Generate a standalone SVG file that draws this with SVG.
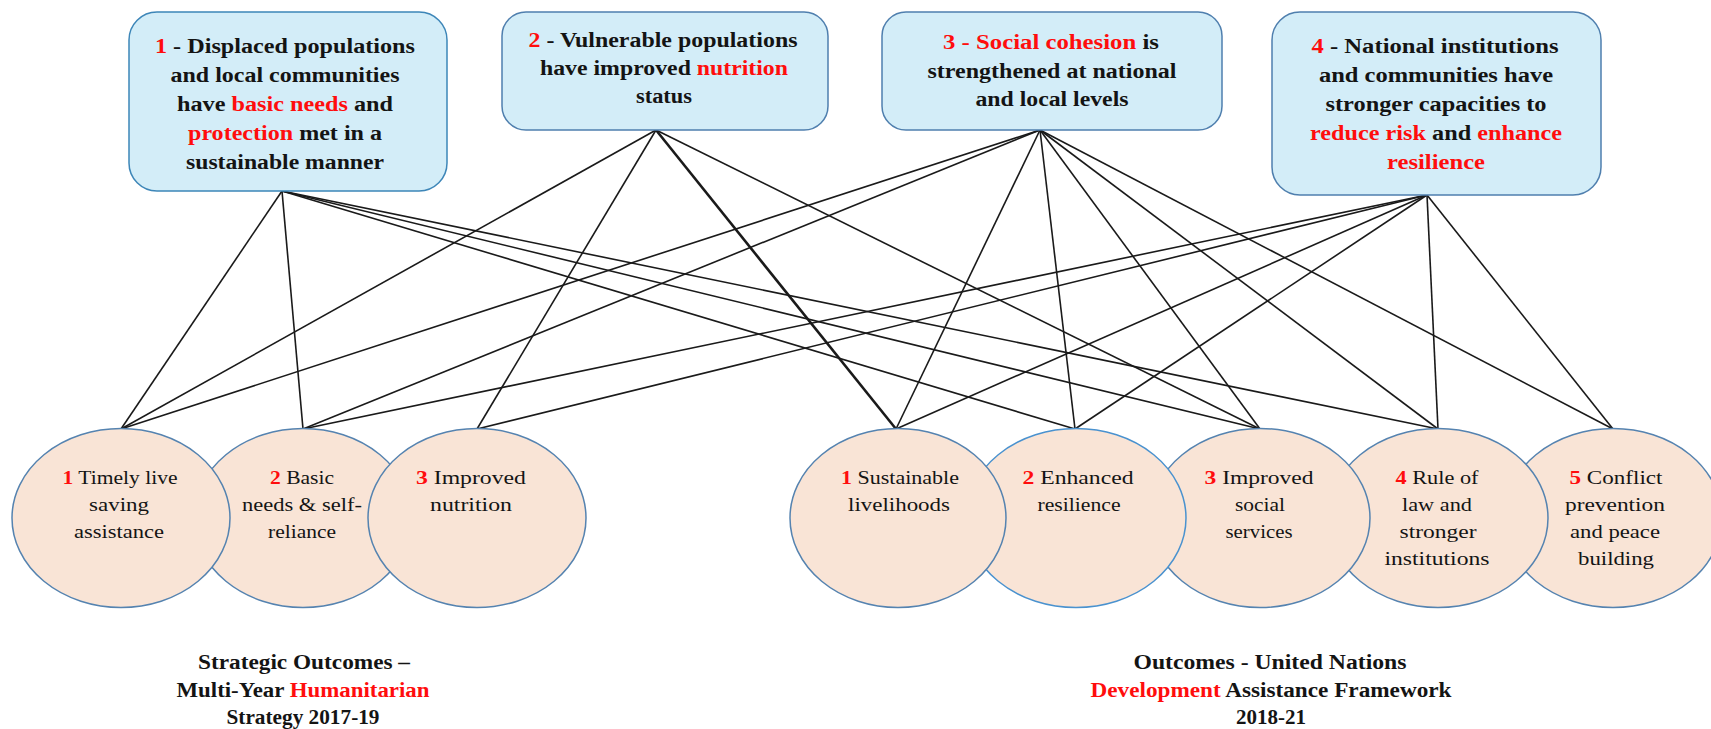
<svg xmlns="http://www.w3.org/2000/svg" width="1711" height="729" viewBox="0 0 1711 729">
<style>
.box{fill:#d3edf8;stroke:#4f7fae;stroke-width:1.5}
.ell{fill:#f9e4d6;stroke:#5583b0;stroke-width:1.5}
.bt{font-family:"Liberation Serif",serif;font-weight:bold;font-size:20px;text-anchor:middle;fill:#141414}
.et{font-family:"Liberation Serif",serif;font-size:19px;text-anchor:middle;fill:#141414}
.r{fill:#ff0d0d}
.b{font-weight:bold}
#connectors line{stroke:#1a1a1a;stroke-width:1.6}
</style>
<rect width="1711" height="729" fill="#ffffff"/>
<g id="connectors">
<line x1="282" y1="191" x2="121" y2="429"/>
<line x1="282" y1="191" x2="303" y2="429"/>
<line x1="282" y1="191" x2="1075" y2="429"/>
<line x1="282" y1="191" x2="1260" y2="429"/>
<line x1="282" y1="191" x2="1438" y2="429"/>
<line x1="656" y1="130" x2="121" y2="429"/>
<line x1="656" y1="130" x2="477" y2="429"/>
<line x1="656" y1="130" x2="896" y2="429" style="stroke-width:2.6"/>
<line x1="656" y1="130" x2="1260" y2="429"/>
<line x1="1040" y1="130" x2="121" y2="429"/>
<line x1="1040" y1="130" x2="303" y2="429"/>
<line x1="1040" y1="130" x2="896" y2="429"/>
<line x1="1040" y1="130" x2="1075" y2="429"/>
<line x1="1040" y1="130" x2="1260" y2="429"/>
<line x1="1040" y1="130" x2="1438" y2="429"/>
<line x1="1040" y1="130" x2="1613" y2="429"/>
<line x1="1427" y1="195" x2="303" y2="429"/>
<line x1="1427" y1="195" x2="477" y2="429"/>
<line x1="1427" y1="195" x2="896" y2="429"/>
<line x1="1427" y1="195" x2="1075" y2="429"/>
<line x1="1427" y1="195" x2="1438" y2="429"/>
<line x1="1427" y1="195" x2="1613" y2="429"/>
</g>
<g id="goal1">
<rect class="box" x="129" y="12" width="318" height="179" rx="28" style="stroke:#3d86b8"/>
<text class="bt" x="285" y="53" textLength="260" lengthAdjust="spacingAndGlyphs"><tspan class="r">1</tspan> - Displaced populations</text>
<text class="bt" x="285" y="82" textLength="229" lengthAdjust="spacingAndGlyphs">and local communities</text>
<text class="bt" x="285" y="111" textLength="216" lengthAdjust="spacingAndGlyphs">have <tspan class="r">basic needs</tspan> and</text>
<text class="bt" x="285" y="140" textLength="194" lengthAdjust="spacingAndGlyphs"><tspan class="r">protection</tspan> met in a</text>
<text class="bt" x="285" y="169" textLength="198" lengthAdjust="spacingAndGlyphs">sustainable manner</text>
</g>
<g id="goal2">
<rect class="box" x="502" y="12" width="326" height="118" rx="24"/>
<text class="bt" x="663" y="47" textLength="269" lengthAdjust="spacingAndGlyphs"><tspan class="r">2</tspan> - Vulnerable populations</text>
<text class="bt" x="664" y="75" textLength="248" lengthAdjust="spacingAndGlyphs">have improved <tspan class="r">nutrition</tspan></text>
<text class="bt" x="664" y="103" textLength="56" lengthAdjust="spacingAndGlyphs">status</text>
</g>
<g id="goal3">
<rect class="box" x="882" y="12" width="340" height="118" rx="24"/>
<text class="bt" x="1051" y="49" textLength="216" lengthAdjust="spacingAndGlyphs"><tspan class="r">3 - Social cohesion</tspan> is</text>
<text class="bt" x="1052" y="78" textLength="249" lengthAdjust="spacingAndGlyphs">strengthened at national</text>
<text class="bt" x="1052" y="106" textLength="153" lengthAdjust="spacingAndGlyphs">and local levels</text>
</g>
<g id="goal4">
<rect class="box" x="1272" y="12" width="329" height="183" rx="28"/>
<text class="bt" x="1435" y="53" textLength="247" lengthAdjust="spacingAndGlyphs"><tspan class="r">4</tspan> - National institutions</text>
<text class="bt" x="1436" y="82" textLength="234" lengthAdjust="spacingAndGlyphs">and communities have</text>
<text class="bt" x="1436" y="111" textLength="221" lengthAdjust="spacingAndGlyphs">stronger capacities to</text>
<text class="bt" x="1436" y="140" textLength="252" lengthAdjust="spacingAndGlyphs"><tspan class="r">reduce risk</tspan> and <tspan class="r">enhance</tspan></text>
<text class="bt" x="1436" y="169" textLength="98" lengthAdjust="spacingAndGlyphs" style="fill:#ff0d0d">resilience</text>
</g>
<g id="hum2">
<ellipse class="ell" cx="303" cy="518" rx="109" ry="89.5"/>
<text class="et" x="302" y="484" textLength="64" lengthAdjust="spacingAndGlyphs"><tspan class="r b">2</tspan> Basic</text>
<text class="et" x="302" y="511" textLength="120" lengthAdjust="spacingAndGlyphs">needs &amp; self-</text>
<text class="et" x="302" y="538" textLength="68" lengthAdjust="spacingAndGlyphs">reliance</text>
</g>
<g id="hum1">
<ellipse class="ell" cx="121" cy="518" rx="109" ry="89.5"/>
<text class="et" x="120" y="484" textLength="115" lengthAdjust="spacingAndGlyphs"><tspan class="r b">1</tspan> Timely live</text>
<text class="et" x="119" y="511" textLength="60" lengthAdjust="spacingAndGlyphs">saving</text>
<text class="et" x="119" y="538" textLength="90" lengthAdjust="spacingAndGlyphs">assistance</text>
</g>
<g id="hum3">
<ellipse class="ell" cx="477" cy="518" rx="109" ry="89.5"/>
<text class="et" x="471" y="484" textLength="110" lengthAdjust="spacingAndGlyphs"><tspan class="r b">3</tspan> Improved</text>
<text class="et" x="471" y="511" textLength="82" lengthAdjust="spacingAndGlyphs">nutrition</text>
</g>
<g id="dev5">
<ellipse class="ell" cx="1613" cy="518" rx="109" ry="89.5"/>
<text class="et" x="1616" y="484" textLength="93" lengthAdjust="spacingAndGlyphs"><tspan class="r b">5</tspan> Conflict</text>
<text class="et" x="1615" y="511" textLength="100" lengthAdjust="spacingAndGlyphs">prevention</text>
<text class="et" x="1615" y="538" textLength="90" lengthAdjust="spacingAndGlyphs">and peace</text>
<text class="et" x="1616" y="565" textLength="76" lengthAdjust="spacingAndGlyphs">building</text>
</g>
<g id="dev4">
<ellipse class="ell" cx="1438" cy="518" rx="110" ry="89.5"/>
<text class="et" x="1437" y="484" textLength="83" lengthAdjust="spacingAndGlyphs"><tspan class="r b">4</tspan> Rule of</text>
<text class="et" x="1437" y="511" textLength="70" lengthAdjust="spacingAndGlyphs">law and</text>
<text class="et" x="1438" y="538" textLength="77" lengthAdjust="spacingAndGlyphs">stronger</text>
<text class="et" x="1437" y="565" textLength="105" lengthAdjust="spacingAndGlyphs">institutions</text>
</g>
<g id="dev3">
<ellipse class="ell" cx="1260" cy="518" rx="110" ry="89.5"/>
<text class="et" x="1259" y="484" textLength="109" lengthAdjust="spacingAndGlyphs"><tspan class="r b">3</tspan> Improved</text>
<text class="et" x="1260" y="511" textLength="50" lengthAdjust="spacingAndGlyphs">social</text>
<text class="et" x="1259" y="538" textLength="67" lengthAdjust="spacingAndGlyphs">services</text>
</g>
<g id="dev2">
<ellipse class="ell" cx="1076" cy="518" rx="110" ry="89.5" style="stroke:#4a92cf"/>
<text class="et" x="1078" y="484" textLength="111" lengthAdjust="spacingAndGlyphs"><tspan class="r b">2</tspan> Enhanced</text>
<text class="et" x="1079" y="511" textLength="83" lengthAdjust="spacingAndGlyphs">resilience</text>
</g>
<g id="dev1">
<ellipse class="ell" cx="898" cy="518" rx="108" ry="89.5"/>
<text class="et" x="900" y="484" textLength="118" lengthAdjust="spacingAndGlyphs"><tspan class="r b">1</tspan> Sustainable</text>
<text class="et" x="899" y="511" textLength="102" lengthAdjust="spacingAndGlyphs">livelihoods</text>
</g>
<g id="label-left">
<text class="bt" x="304" y="669" textLength="212" lengthAdjust="spacingAndGlyphs">Strategic Outcomes –</text>
<text class="bt" x="303" y="697" textLength="253" lengthAdjust="spacingAndGlyphs">Multi-Year <tspan class="r">Humanitarian</tspan></text>
<text class="bt" x="303" y="724" textLength="153" lengthAdjust="spacingAndGlyphs">Strategy 2017-19</text>
</g>
<g id="label-right">
<text class="bt" x="1270" y="669" textLength="273" lengthAdjust="spacingAndGlyphs">Outcomes - United Nations</text>
<text class="bt" x="1271" y="697" textLength="361" lengthAdjust="spacingAndGlyphs"><tspan class="r">Development</tspan> Assistance Framework</text>
<text class="bt" x="1271" y="724" textLength="70" lengthAdjust="spacingAndGlyphs">2018-21</text>
</g>
</svg>
